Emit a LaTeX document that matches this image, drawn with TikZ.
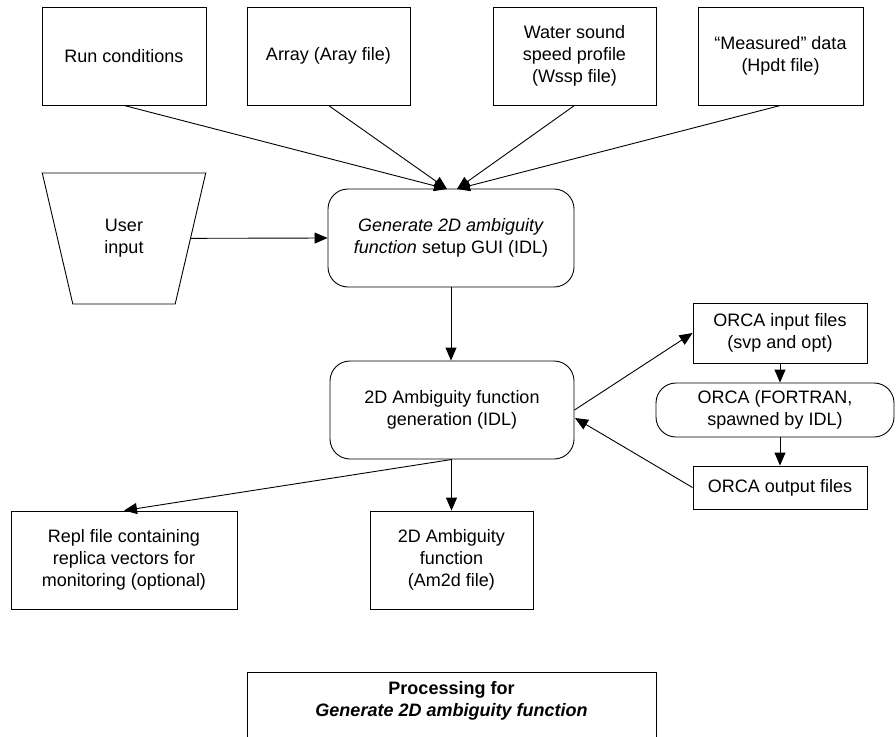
\documentclass[tikz,border=0pt]{standalone}
\usepackage{fontspec}
\setmainfont{Liberation Sans}
\usetikzlibrary{arrows.meta,shapes.geometric}

\tikzset{
  base/.style={draw=black, line width=0.9pt, inner sep=0pt, align=center,
    font=\fontsize{18}{22}\selectfont},
  filebox/.style={base, rectangle},
  procbox/.style={base, rectangle, rounded corners=20pt},
  conn/.style={draw=black, line width=0.9pt, -{Triangle[length=13pt,width=11pt]}},
}

\begin{document}
\begin{tikzpicture}[x=1pt, y=-1pt]
  \useasboundingbox (0,0) rectangle (896,736);

  % input files along the top
  \node[filebox, minimum width=164pt, minimum height=98pt] (run)  at (124,56)   {Run conditions};
  \node[filebox, minimum width=163pt, minimum height=98pt] (aray) at (328.5,56) {Array (Aray file)};
  \node[filebox, minimum width=163pt, minimum height=98pt] (wssp) at (574.5,56) {Water sound\\speed profile\\(Wssp file)};
  \node[filebox, minimum width=165pt, minimum height=98pt] (hpdt) at (780.5,56) {“Measured” data\\(Hpdt file)};

  % manual input
  \node[base, trapezium, trapezium angle=73, shape border rotate=180,
        trapezium stretches=true, minimum width=164pt, minimum height=131pt]
        (user) at (124,238.5) {User\\input};

  % setup GUI and generation step
  \node[procbox, minimum width=246pt, minimum height=98pt] (gen) at (451,238)
        {\textit{Generate 2D ambiguity}\\\textit{function} setup GUI (IDL)};
  \node[procbox, minimum width=244pt, minimum height=98pt] (amb) at (452,410)
        {2D Ambiguity function\\generation (IDL)};

  % ORCA loop
  \node[filebox, minimum width=174pt, minimum height=60pt] (inp)  at (780,333)   {ORCA input files\\(svp and opt)};
  \node[procbox, minimum width=238pt, minimum height=54pt] (orca) at (775,410)   {ORCA (FORTRAN,\\spawned by IDL)};
  \node[filebox, minimum width=174pt, minimum height=43pt] (out)  at (780,487.5) {ORCA output files};

  % outputs
  \node[filebox, minimum width=226pt, minimum height=98pt] (repl) at (124,560)   {Repl file containing\\replica vectors for\\monitoring (optional)};
  \node[filebox, minimum width=163pt, minimum height=98pt] (amf)  at (451.5,560) {2D Ambiguity\\function\\(Am2d file)};

  % caption box, running off the lower edge
  \begin{scope}
    \clip (0,0) rectangle (896,736);
    \draw[line width=0.9pt] (247,672) rectangle (656,770);
    \node[base, draw=none] (cap) at (451.5,701)
      {\textbf{Processing for}\\\textbf{\textit{Generate 2D ambiguity function}}};
  \end{scope}

  % connectors
  \coordinate (genL) at (447,189);
  \coordinate (genR) at (457,189);
  \path[conn] (run.south)  -- (genL);
  \path[conn] (aray.south) -- (genL);
  \path[conn] (wssp.south) -- (genR);
  \path[conn] (hpdt.south) -- (genR);
  \path[conn] (user) -- (gen.west);
  \path[conn] (gen.south) -- (gen.south |- amb.north);
  \path[conn] (amb.east) -- (inp.west);
  \path[conn] (inp.south) -- (inp.south |- orca.north);
  \path[conn] (out.north |- orca.south) -- (out.north);
  \coordinate (ambIn) at (575,418);
  \path[conn] (out.west) -- (ambIn);
  \path[conn] (amb.south) -- (repl.north);
  \path[conn] (amb.south -| amf.north) -- (amf.north);
\end{tikzpicture}
\end{document}
